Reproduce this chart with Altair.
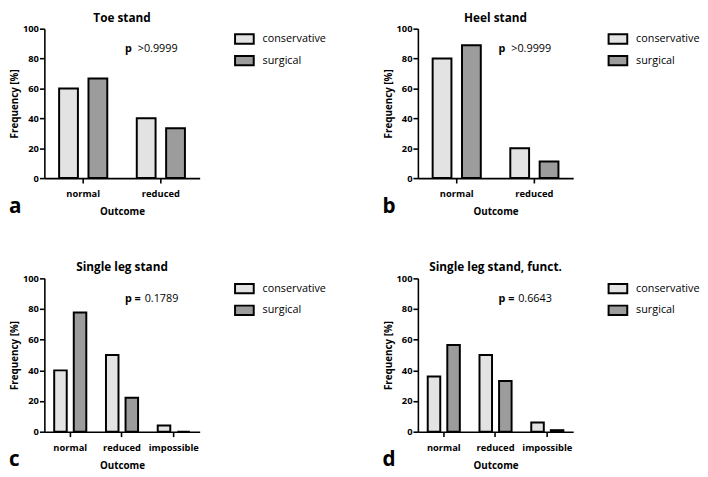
import altair as alt
import pandas as pd

# ---- data ----
titles = ["Toe stand", "Heel stand", "Single leg stand", "Single leg stand, funct."]
letters = ["a", "b", "c", "d"]
groups = ["conservative", "surgical"]
outcomes_2 = ["normal", "reduced"]
outcomes_3 = ["normal", "reduced", "impossible"]

conservative_a = [60, 40]
surgical_a = [66.7, 33.3]
conservative_b = [80, 20]
surgical_b = [88.9, 11.1]
conservative_c = [40, 50, 4]
surgical_c = [77.8, 22.2, 0]
conservative_d = [36, 50, 6]
surgical_d = [56.6, 33, 1]

p_labels = ["p", "p", "p =", "p ="]
p_values = [">0.9999", ">0.9999", "0.1789", "0.6643"]

colors = ["#e3e3e3", "#9c9c9c"]
FONT = "Open Sans"
W = 158
H_TOP, H_BOT = 152, 156


def panel(title, letter, cats, cons, surg, plab, pval, h):
    df = pd.DataFrame({
        "Outcome": list(cats) * 2,
        "group": ["conservative"] * len(cats) + ["surgical"] * len(cats),
        "value": list(cons) + list(surg),
    })
    bars = alt.Chart(df).mark_bar(stroke="black", strokeWidth=2).encode(
        x=alt.X("Outcome:N", sort=list(cats),
                scale=alt.Scale(paddingInner=0.38, paddingOuter=0.19),
                axis=alt.Axis(labelAngle=0, title="Outcome", labelPadding=6,
                              titlePadding=9)),
        xOffset=alt.XOffset("group:N", sort=groups,
                            scale=alt.Scale(paddingInner=0.36)),
        y=alt.Y("value:Q", scale=alt.Scale(domain=[0, 100], nice=False),
                axis=alt.Axis(values=[0, 20, 40, 60, 80, 100],
                              title="Frequency [%]", labelPadding=1,
                              titlePadding=3)),
        color=alt.Color("group:N", sort=groups,
                        scale=alt.Scale(domain=groups, range=colors),
                        legend=alt.Legend(
                            title=None, orient="none", legendX=193, legendY=0,
                            symbolType="M-1,-0.5H1V0.5H-1Z", symbolSize=361,
                            symbolStrokeColor="black", symbolStrokeWidth=2,
                            labelFont=FONT, labelFontSize=11, labelColor="black",
                            labelOffset=8, rowPadding=2, padding=0)),
    )
    one = alt.Chart(alt.Data(values=[{}]))
    val_dx = 13 if plab == "p" else 20
    ttext = one.mark_text(text=title, font=FONT, fontWeight="bold", fontSize=12,
                          align="center", baseline="middle", color="black").encode(
        x=alt.value(W / 2), y=alt.value(-11))
    ptext = one.mark_text(text=plab, font=FONT, fontWeight="bold", fontSize=11,
                          align="left", baseline="middle", color="black").encode(
        x=alt.value(82), y=alt.value(21))
    vtext = one.mark_text(text=pval, font=FONT, fontSize=11,
                          align="left", baseline="middle", color="black").encode(
        x=alt.value(82 + val_dx), y=alt.value(21))
    ltext = one.mark_text(text=letter, font=FONT, fontWeight="bold", fontSize=21,
                          align="left", baseline="alphabetic", color="black").encode(
        x=alt.value(-36), y=alt.value(h + 35))
    return alt.layer(bars, ttext, ptext, vtext, ltext).properties(width=W, height=h)


panels = [
    panel(titles[0], letters[0], outcomes_2, conservative_a, surgical_a, p_labels[0], p_values[0], H_TOP),
    panel(titles[1], letters[1], outcomes_2, conservative_b, surgical_b, p_labels[1], p_values[1], H_TOP),
    panel(titles[2], letters[2], outcomes_3, conservative_c, surgical_c, p_labels[2], p_values[2], H_BOT),
    panel(titles[3], letters[3], outcomes_3, conservative_d, surgical_d, p_labels[3], p_values[3], H_BOT),
]

chart = alt.concat(
    *panels, columns=2, spacing={"row": 102, "column": 222}, bounds="flush"
).resolve_scale(
    color="independent", x="independent", y="independent", xOffset="independent"
).resolve_legend(
    color="independent"
).properties(
    padding={"left": 1, "top": 0, "right": 0, "bottom": 0}
).configure(
    font=FONT
).configure_view(
    strokeWidth=0
).configure_axis(
    grid=False, domainColor="black", domainWidth=1.6, tickColor="black",
    tickWidth=1.6, tickSize=5, labelColor="black", titleColor="black",
    labelFont=FONT, titleFont=FONT, labelFontSize=9.5, labelFontWeight="bold",
    titleFontSize=10, titleFontWeight="bold"
)

chart.save("out.html", embed_options={"renderer": "svg", "actions": False})
